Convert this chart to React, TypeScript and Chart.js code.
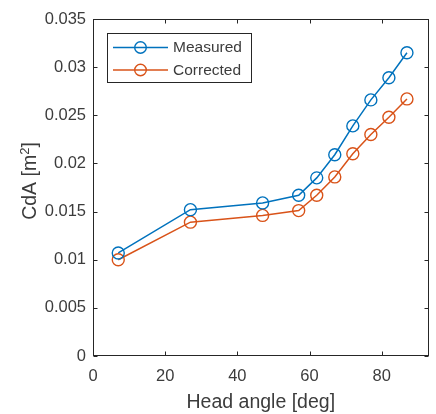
import { useEffect, useRef } from "react";
import { Chart, registerables } from "chart.js";

Chart.register(...registerables);

// Drag area vs. head angle
const headAngles = [7, 27, 47, 57, 62, 67, 72, 77, 82, 87];
const measuredCdA = [0.0107, 0.0152, 0.0159, 0.0167, 0.0185, 0.0209, 0.0239, 0.0266, 0.0289, 0.0315];
const correctedCdA = [0.01, 0.0139, 0.0146, 0.0151, 0.0167, 0.0186, 0.021, 0.023, 0.0248, 0.0267];

const seriesNames = ["Measured", "Corrected"];
const xTicks = [0, 20, 40, 60, 80];
const yTicks = [0, 0.005, 0.01, 0.015, 0.02, 0.025, 0.03, 0.035];
const yTickLabels = ["0", "0.005", "0.01", "0.015", "0.02", "0.025", "0.03", "0.035"];
const xTitle = "Head angle [deg]";
const yTitleMain = "CdA [m";
const yTitleSup = "2";
const yTitleEnd = "]";

const BLUE = "#0072BD";
const ORANGE = "#D95319";
const AXIS = "#262626";
const TEXT = "#3c3c3c";
const FONT = "'Liberation Sans', Arial, Helvetica, sans-serif";

// Box around the plot with inward tick marks on all four sides
const axesBox = {
  id: "axesBox",
  afterDraw(chart: any) {
    const { ctx, chartArea: a, scales } = chart;
    const tick = 4;
    ctx.save();
    ctx.strokeStyle = AXIS;
    ctx.lineWidth = 1;
    const L = Math.round(a.left) + 0.5;
    const R = Math.round(a.right) - 0.5;
    const T = Math.round(a.top) + 0.5;
    const B = Math.round(a.bottom) - 0.5;
    ctx.strokeRect(L, T, R - L, B - T);
    ctx.beginPath();
    for (const v of xTicks) {
      const px = Math.round(scales.x.getPixelForValue(v)) + 0.5;
      ctx.moveTo(px, B);
      ctx.lineTo(px, B - tick);
      ctx.moveTo(px, T);
      ctx.lineTo(px, T + tick);
    }
    for (const v of yTicks) {
      const py = Math.round(scales.y.getPixelForValue(v)) + 0.5;
      ctx.moveTo(L, py);
      ctx.lineTo(L + tick, py);
      ctx.moveTo(R, py);
      ctx.lineTo(R - tick, py);
    }
    ctx.stroke();
    ctx.restore();
  },
};

// Axis titles (the y title carries a superscript)
const axisTitles = {
  id: "axisTitles",
  afterDraw(chart: any) {
    const { ctx, chartArea: a } = chart;
    ctx.save();
    ctx.fillStyle = TEXT;
    ctx.font = `19.5px ${FONT}`;
    ctx.textAlign = "center";
    ctx.textBaseline = "alphabetic";
    ctx.fillText(xTitle, (a.left + a.right) / 2, 407.5);

    const mainFont = `19.5px ${FONT}`;
    const supFont = `13px ${FONT}`;
    ctx.font = mainFont;
    const w1 = ctx.measureText(yTitleMain).width;
    const w3 = ctx.measureText(yTitleEnd).width;
    ctx.font = supFont;
    const w2 = ctx.measureText(yTitleSup).width;
    const total = w1 + w2 + w3;
    ctx.translate(36, 181);
    ctx.rotate(-Math.PI / 2);
    ctx.textAlign = "left";
    let x = -total / 2;
    ctx.font = mainFont;
    ctx.fillText(yTitleMain, x, 0);
    x += w1;
    ctx.font = supFont;
    ctx.fillText(yTitleSup, x, -7.5);
    x += w2;
    ctx.font = mainFont;
    ctx.fillText(yTitleEnd, x, 0);
    ctx.restore();
  },
};

// Boxed legend in the upper-left corner of the plot
const boxedLegend = {
  id: "boxedLegend",
  afterDraw(chart: any) {
    const { ctx } = chart;
    const left = 107;
    const top = 33;
    const right = 252;
    const bottom = 83;
    ctx.save();
    ctx.fillStyle = "#ffffff";
    ctx.fillRect(left, top, right - left, bottom - top);
    ctx.strokeStyle = AXIS;
    ctx.lineWidth = 1;
    ctx.strokeRect(left + 0.5, top + 0.5, right - left - 1, bottom - top - 1);
    const rows = [47.5, 70];
    chart.data.datasets.forEach((ds: any, i: number) => {
      const y = rows[i];
      ctx.strokeStyle = ds.borderColor;
      ctx.lineWidth = 1.5;
      ctx.beginPath();
      ctx.moveTo(113, y);
      ctx.lineTo(168, y);
      ctx.stroke();
      ctx.lineWidth = 1.4;
      ctx.beginPath();
      ctx.arc(140.5, y, 5.8, 0, Math.PI * 2);
      ctx.stroke();
      ctx.fillStyle = TEXT;
      ctx.font = `15.5px ${FONT}`;
      ctx.textAlign = "left";
      ctx.textBaseline = "middle";
      ctx.fillText(ds.label, 173, y + 0.5);
    });
    ctx.restore();
  },
};

export default function App() {
  const canvasRef = useRef<HTMLCanvasElement | null>(null);

  useEffect(() => {
    if (!canvasRef.current) return;
    const makeSeries = (label: string, values: number[], color: string) => ({
      label,
      data: headAngles.map((x, i) => ({ x, y: values[i] })),
      borderColor: color,
      backgroundColor: color,
      borderWidth: 1.5,
      pointRadius: 6,
      pointBorderWidth: 1.4,
      pointBackgroundColor: "rgba(0,0,0,0)",
      pointBorderColor: color,
      tension: 0,
    });
    const tickFont = { family: FONT, size: 16.5 };
    const chart = new Chart(canvasRef.current, {
      type: "line",
      data: {
        datasets: [
          makeSeries(seriesNames[0], measuredCdA, BLUE),
          makeSeries(seriesNames[1], correctedCdA, ORANGE),
        ],
      },
      options: {
        animation: false,
        responsive: true,
        maintainAspectRatio: false,
        layout: { padding: { top: 19, right: 3, left: 0, bottom: 0 } },
        plugins: { legend: { display: false }, tooltip: { enabled: false } },
        scales: {
          x: {
            type: "linear",
            min: 0,
            max: 93,
            grid: { display: false, drawTicks: false },
            border: { display: false },
            ticks: { font: tickFont, color: TEXT, padding: 11, maxRotation: 0, autoSkip: false },
            afterBuildTicks: (s: any) => {
              s.ticks = xTicks.map((value) => ({ value }));
            },
            afterFit: (s: any) => {
              s.height = 58;
            },
          },
          y: {
            type: "linear",
            min: 0,
            max: 0.035,
            grid: { display: false, drawTicks: false },
            border: { display: false },
            ticks: {
              font: tickFont,
              color: TEXT,
              padding: 7,
              autoSkip: false,
              callback: (v: any) => {
                const i = yTicks.findIndex((t) => Math.abs(t - Number(v)) < 1e-9);
                return i >= 0 ? yTickLabels[i] : "";
              },
            },
            afterBuildTicks: (s: any) => {
              s.ticks = yTicks.map((value) => ({ value }));
            },
            afterFit: (s: any) => {
              s.width = 93;
            },
          },
        },
      },
      plugins: [axesBox, axisTitles, boxedLegend],
    } as any);
    return () => chart.destroy();
  }, []);

  return (
    <div style={{ position: "fixed", left: 0, top: 0, width: 436, height: 414, background: "#ffffff" }}>
      <canvas ref={canvasRef} />
    </div>
  );
}
